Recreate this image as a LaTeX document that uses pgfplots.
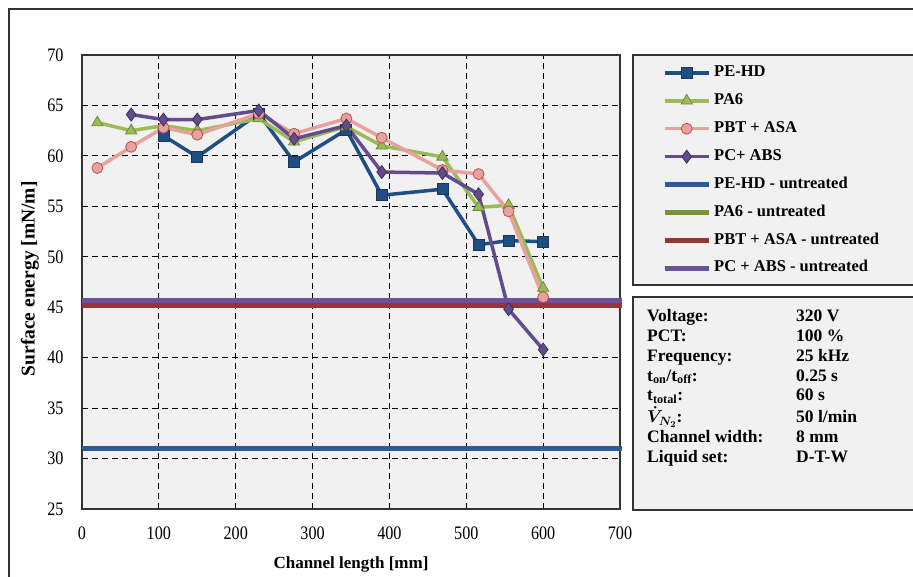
\documentclass[border=0pt]{standalone}
\usepackage{fontspec}
\setmainfont{Liberation Serif}
\usepackage{graphicx}
\usepackage{pgfplots}
\pgfplotsset{compat=1.18}
\definecolor{pehd}{HTML}{1F4E85}
\definecolor{pa}{HTML}{9BBB59}
\definecolor{paedge}{HTML}{6E8B3A}
\definecolor{pbt}{HTML}{E8A29E}
\definecolor{pbtedge}{HTML}{C0504D}
\definecolor{pc}{HTML}{634C8E}
\definecolor{pcedge}{HTML}{403152}
\definecolor{pehdu}{HTML}{2B5C97}
\definecolor{pau}{HTML}{77933C}
\definecolor{pbtu}{HTML}{963634}
\definecolor{pcu}{HTML}{6A5396}
\definecolor{bg}{HTML}{F1F1F1}
\begin{document}
\begin{tikzpicture}[x=1pt,y=1pt]
\path[use as bounding box] (0,0) rectangle (913,576);
\draw[black!80, line width=1.2pt] (9,-10) -- (9,567) -- (930,567);
\draw[black!80, line width=1.5pt, fill=bg] (633,291) rectangle (935,521);
\draw[black!80, line width=1.5pt, fill=bg] (633,66) rectangle (935,279);
\node[anchor=base west, inner sep=0pt] at (647,254) {\fontsize{17.5}{19.7}\selectfont\bfseries
\begin{tabular}[t]{@{}p{149pt}@{}l@{}}
Voltage: & 320 V\\
PCT: & 100 \%\\
Frequency: & 25 kHz\\
t\textsubscript{on}/t\textsubscript{off}: & 0.25 s\\
t\textsubscript{total}: & 60 s\\
{\boldmath$\dot{V}_{N_2}$}: & 50 l/min\\
Channel width: & 8 mm\\
Liquid set: & D-T-W
\end{tabular}};
\begin{axis}[
  at={(82pt,67pt)}, anchor=south west,
  scale only axis, width=538pt, height=454pt,
  xmin=0, xmax=700, ymin=25, ymax=70,
  xtick={0,100,...,700}, ytick={25,30,...,70},
  major tick length=0pt,
  grid=major,
  major grid style={black, line width=1pt, dash pattern=on 6pt off 4pt},
  axis line style={draw=black!80, line width=1.3pt},
  axis background/.style={fill=bg},
  /pgf/number format/assume math mode=true,
  tick label style={font=\fontsize{17}{20}\selectfont},
  xticklabel={\scalebox{0.95}[1.12]{\pgfmathprintnumber{\tick}}},
  yticklabel={\scalebox{0.95}[1.12]{\pgfmathprintnumber{\tick}}},
  xticklabel style={yshift=-14pt},
  yticklabel style={xshift=-15pt},
  xlabel={Channel length [mm]},
  ylabel={Surface energy [mN/m]},
  xlabel style={font=\fontsize{17}{20}\selectfont\bfseries, at={(axis description cs:0.5,-0.123)}, anchor=center},
  ylabel style={font=\fontsize{19.5}{22}\selectfont\bfseries, at={(axis description cs:-0.0967,0.507)}, anchor=center},
  legend style={at={(axis description cs:1.0781,0.978)}, anchor=north west, draw=none, fill=none,
    inner sep=0pt, row sep=12.4pt,
    font=\fontsize{16.5}{19}\selectfont\bfseries,
    nodes={inner sep=0pt, text height=11.5pt, text depth=4pt},
    column sep=3pt},
  legend cell align=left,
  legend image code/.code={\draw[mark repeat=2, mark phase=2] plot coordinates {(0pt,0pt) (22pt,0pt) (44pt,0pt)};},
  clip=false,
]
\addplot[pehd, line width=3.5pt, mark=square*, mark size=5.5pt, mark options={fill=pehd, draw=pehdu!60!black, line width=0.8pt}] coordinates {
(106,62.0) (150,59.9) (230,64.2) (276,59.4) (344,62.6) (390,56.1) (469,56.7) (516,51.2) (555,51.6) (600,51.5)};
\addlegendentry{PE-HD}
\addplot[pa, line width=3.5pt, mark=triangle*, mark size=6.5pt, mark options={fill=pa, draw=paedge, line width=0.8pt}] coordinates {
(20,63.3) (64,62.5) (106,63.0) (150,62.5) (230,63.7) (276,61.4) (344,62.9) (390,61.0) (469,59.9) (516,54.9) (555,55.1) (600,46.9)};
\addlegendentry{PA6}
\addplot[pbt, line width=3.5pt, mark=*, mark size=5.5pt, mark options={fill=pbt, draw=pbtedge, line width=0.8pt}] coordinates {
(20,58.8) (64,60.9) (106,62.8) (150,62.1) (230,64.2) (276,62.2) (344,63.7) (390,61.8) (469,58.6) (516,58.2) (555,54.5) (600,46.0)};
\addlegendentry{PBT + ASA}
\addplot[pc, line width=3.5pt, mark=diamond*, mark size=6.5pt, mark options={fill=pc, draw=pcedge, line width=0.8pt}] coordinates {
(64,64.1) (106,63.6) (150,63.6) (230,64.5) (276,61.7) (344,63.0) (390,58.4) (469,58.3) (516,56.2) (555,44.8) (600,40.8)};
\addlegendentry{PC+ ABS}
\addplot[pehdu, line width=5pt] coordinates {(0,31.0) (703,31.0)};
\addlegendentry{PE-HD - untreated}
\addplot[pau, line width=5pt] coordinates {(0,45.5) (703,45.5)};
\addlegendentry{PA6 - untreated}
\addplot[pbtu, line width=5pt] coordinates {(0,45.15) (703,45.15)};
\addlegendentry{PBT + ASA - untreated}
\addplot[pcu, line width=5pt] coordinates {(0,45.65) (703,45.65)};
\addlegendentry{PC + ABS - untreated}
\end{axis}
\end{tikzpicture}
\end{document}
